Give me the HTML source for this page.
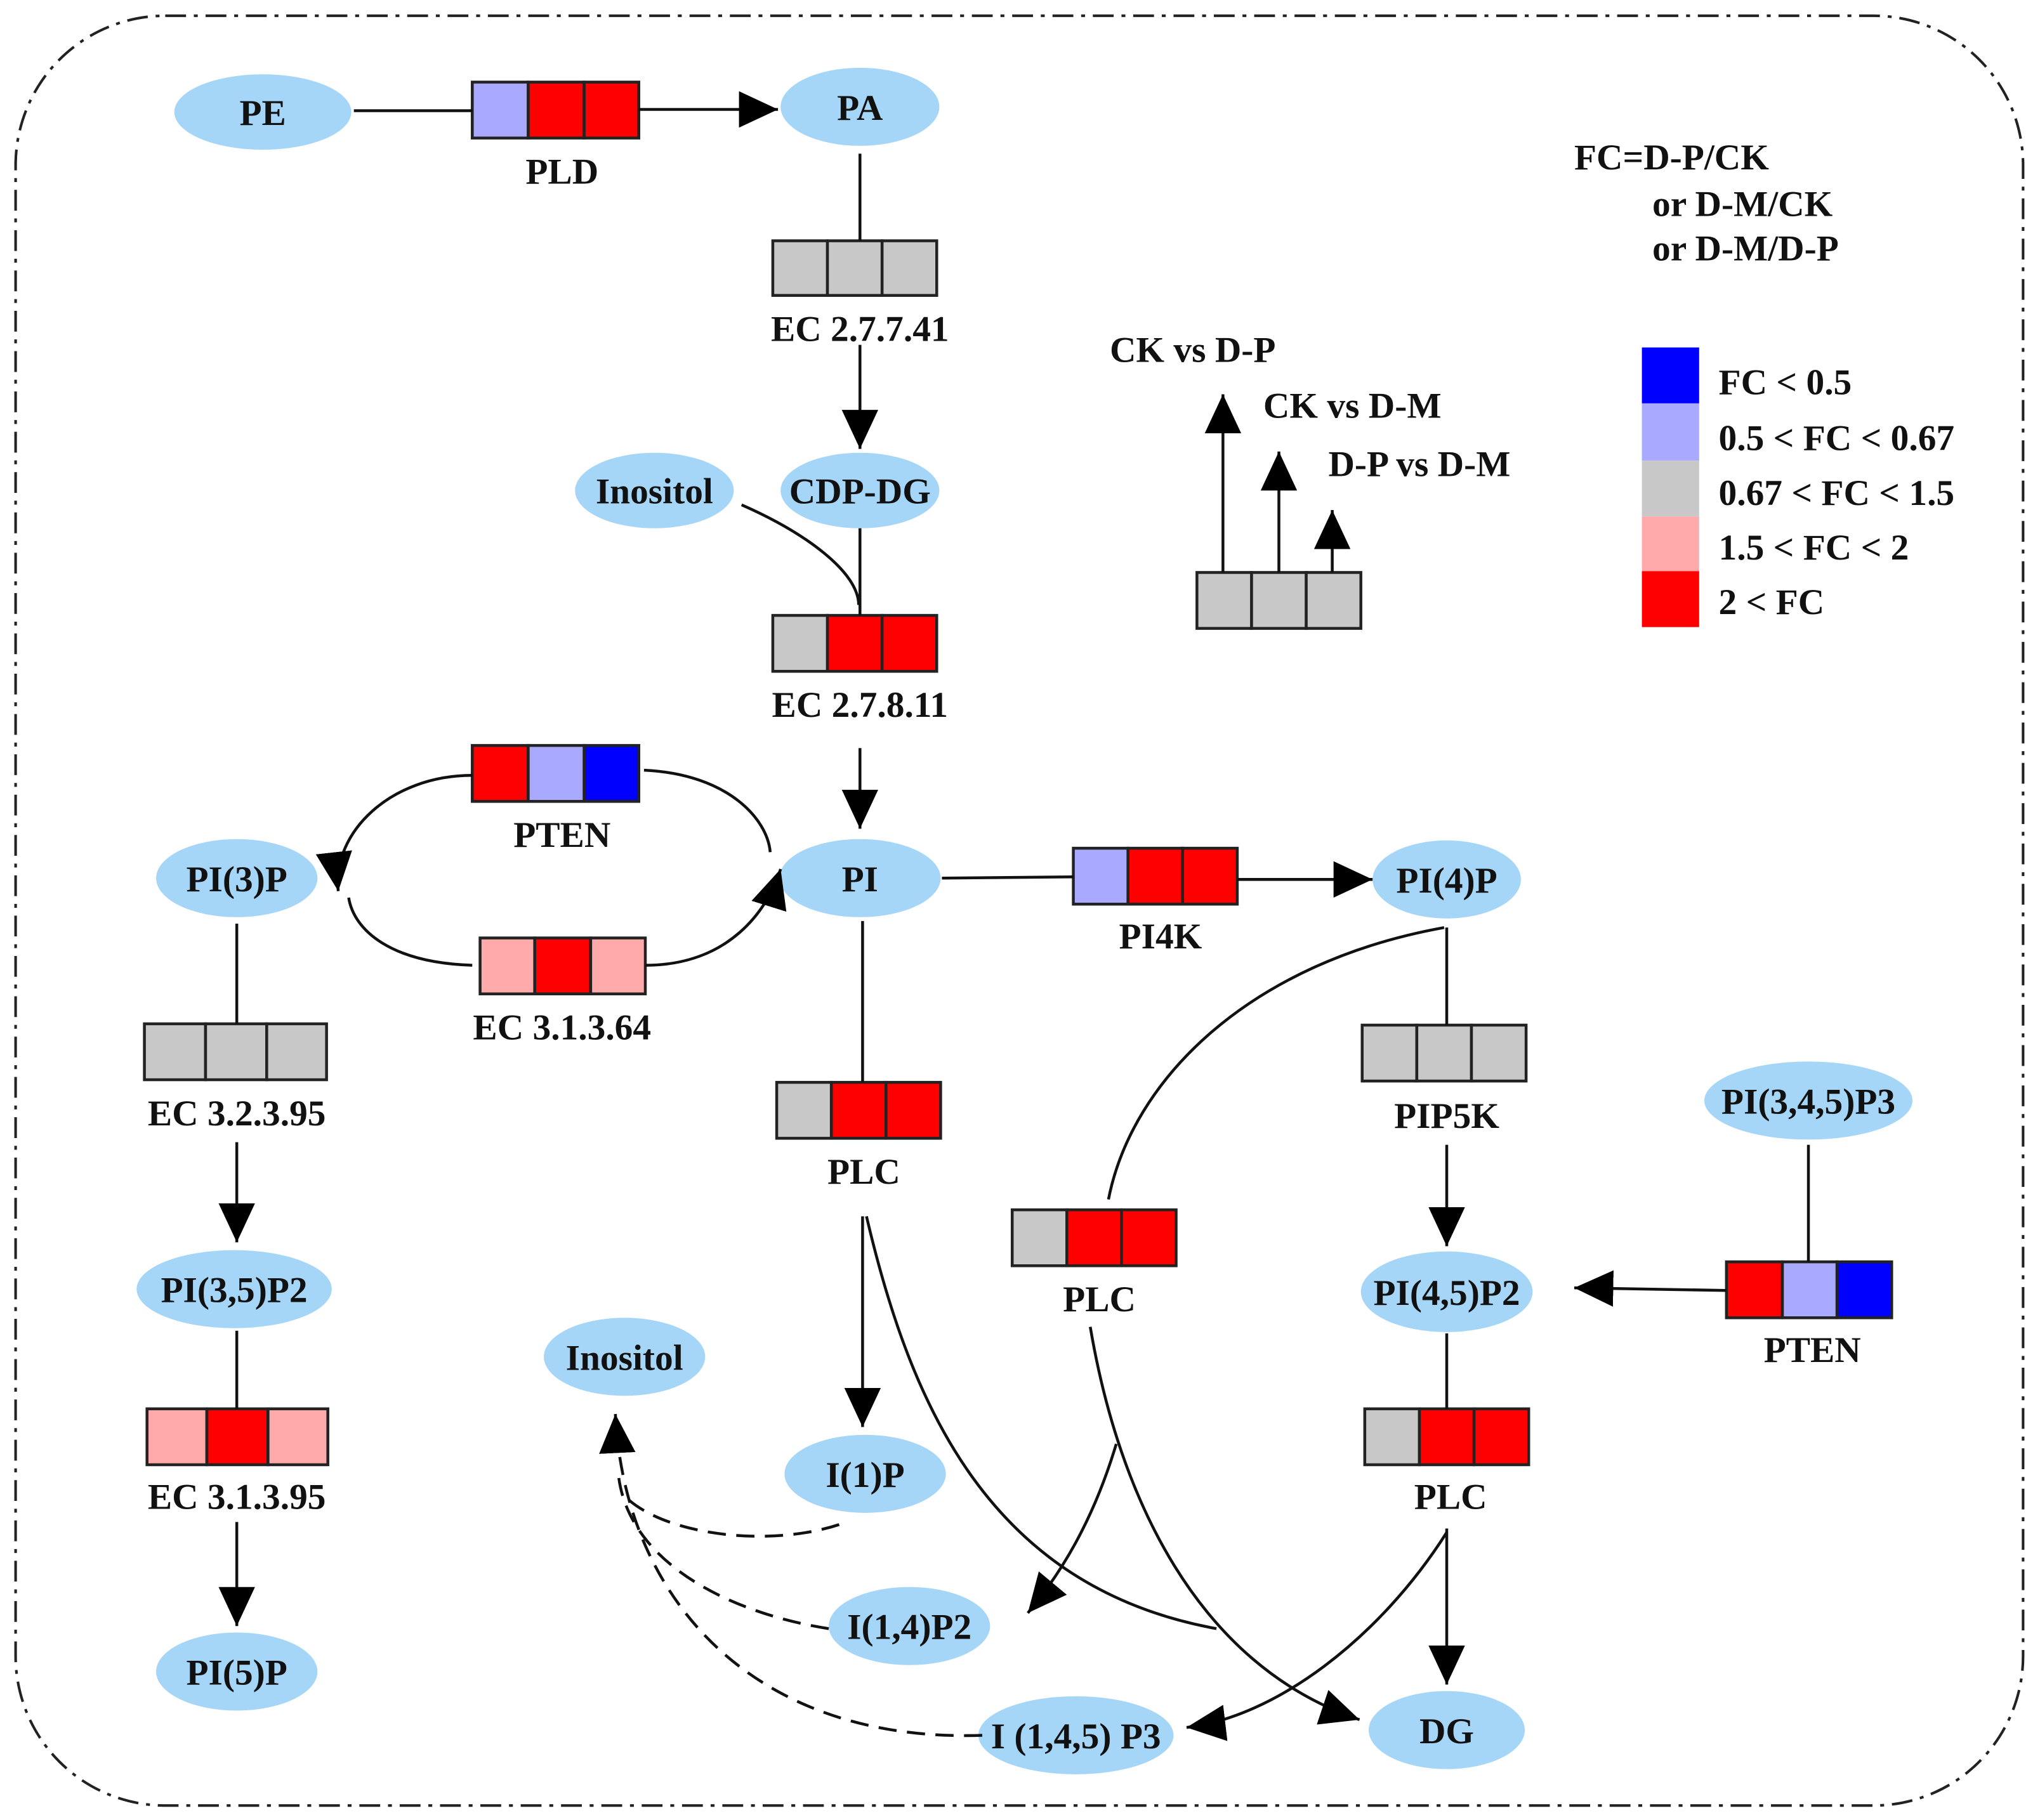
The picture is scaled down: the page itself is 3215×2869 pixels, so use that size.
<!DOCTYPE html>
<html><head><meta charset="utf-8"><style>
html,body{margin:0;padding:0;background:#fff;}
svg{display:block;}
text{font-family:"Liberation Serif",serif;font-weight:bold;font-size:28px;fill:#111;}
.c{text-anchor:middle;}
.l{stroke:#111;stroke-width:2.2;fill:none;}
.d{stroke:#111;stroke-width:2.2;fill:none;stroke-dasharray:14 8;}
.e{fill:#a6d6f7;}
.b{stroke:#222;stroke-width:2.2;}
</style></head><body>
<svg width="3215" height="2869" viewBox="0 0 1568 1399" xmlns="http://www.w3.org/2000/svg">
<defs>
<marker id="a" markerUnits="userSpaceOnUse" markerWidth="32" markerHeight="28" refX="30" refY="14" orient="auto">
<path d="M0,0 L30,14 L0,28 Z" fill="#000"/></marker>
</defs>
<rect x="12" y="12" width="1543" height="1376" rx="115" ry="115" fill="none" stroke="#222" stroke-width="2" stroke-dasharray="16 6 3 6"/>

<g class="e">
<ellipse cx="202" cy="86" rx="68" ry="29"/>
<ellipse cx="661" cy="82" rx="61" ry="30"/>
<ellipse cx="661" cy="377" rx="61" ry="29"/>
<ellipse cx="503" cy="377" rx="61" ry="29"/>
<ellipse cx="661" cy="675" rx="62" ry="30"/>
<ellipse cx="182" cy="675" rx="62" ry="30"/>
<ellipse cx="180" cy="991" rx="75" ry="30"/>
<ellipse cx="182" cy="1285" rx="62" ry="30"/>
<ellipse cx="1112" cy="676" rx="57" ry="30"/>
<ellipse cx="1112" cy="993" rx="66" ry="31"/>
<ellipse cx="1390" cy="846" rx="80" ry="30"/>
<ellipse cx="1112" cy="1330" rx="60" ry="30"/>
<ellipse cx="665" cy="1133" rx="62" ry="30"/>
<ellipse cx="699" cy="1250" rx="62" ry="30"/>
<ellipse cx="827" cy="1334" rx="75" ry="30"/>
<ellipse cx="480" cy="1043" rx="62" ry="30"/>
</g>
<g class="c">
<text x="202" y="96">PE</text><text x="661" y="92">PA</text>
<text x="661" y="387">CDP-DG</text><text x="503" y="387">Inositol</text>
<text x="661" y="685">PI</text><text x="182" y="685">PI(3)P</text>
<text x="180" y="1001">PI(3,5)P2</text><text x="182" y="1295">PI(5)P</text>
<text x="1112" y="686">PI(4)P</text><text x="1112" y="1003">PI(4,5)P2</text>
<text x="1390" y="856">PI(3,4,5)P3</text><text x="1112" y="1340">DG</text>
<text x="665" y="1143">I(1)P</text><text x="699" y="1260">I(1,4)P2</text>
<text x="827" y="1344">I (1,4,5) P3</text><text x="480" y="1053">Inositol</text>
</g>

<g class="b">
<rect x="363" y="63" width="43" height="43" fill="#a9a9ff"/><rect x="406" y="63" width="43" height="43" fill="#f00"/><rect x="449" y="63" width="42" height="43" fill="#f00"/>
<rect x="594" y="185" width="42" height="42" fill="#c8c8c8"/><rect x="636" y="185" width="42" height="42" fill="#c8c8c8"/><rect x="678" y="185" width="42" height="42" fill="#c8c8c8"/>
<rect x="594" y="473" width="42" height="43" fill="#c8c8c8"/><rect x="636" y="473" width="42" height="43" fill="#f00"/><rect x="678" y="473" width="42" height="43" fill="#f00"/>
<rect x="363" y="573" width="43" height="43" fill="#f00"/><rect x="406" y="573" width="43" height="43" fill="#a9a9ff"/><rect x="449" y="573" width="42" height="43" fill="#00f"/>
<rect x="369" y="721" width="42" height="43" fill="#ffaaaa"/><rect x="411" y="721" width="43" height="43" fill="#f00"/><rect x="454" y="721" width="42" height="43" fill="#ffaaaa"/>
<rect x="111" y="787" width="47" height="43" fill="#c8c8c8"/><rect x="158" y="787" width="47" height="43" fill="#c8c8c8"/><rect x="205" y="787" width="46" height="43" fill="#c8c8c8"/>
<rect x="113" y="1083" width="46" height="43" fill="#ffaaaa"/><rect x="159" y="1083" width="47" height="43" fill="#f00"/><rect x="206" y="1083" width="46" height="43" fill="#ffaaaa"/>
<rect x="825" y="652" width="42" height="43" fill="#a9a9ff"/><rect x="867" y="652" width="42" height="43" fill="#f00"/><rect x="909" y="652" width="42" height="43" fill="#f00"/>
<rect x="1047" y="788" width="42" height="43" fill="#c8c8c8"/><rect x="1089" y="788" width="42" height="43" fill="#c8c8c8"/><rect x="1131" y="788" width="42" height="43" fill="#c8c8c8"/>
<rect x="1327" y="970" width="43" height="43" fill="#f00"/><rect x="1370" y="970" width="42" height="43" fill="#a9a9ff"/><rect x="1412" y="970" width="42" height="43" fill="#00f"/>
<rect x="1049" y="1083" width="42" height="43" fill="#c8c8c8"/><rect x="1091" y="1083" width="42" height="43" fill="#f00"/><rect x="1133" y="1083" width="42" height="43" fill="#f00"/>
<rect x="597" y="832" width="42" height="43" fill="#c8c8c8"/><rect x="639" y="832" width="42" height="43" fill="#f00"/><rect x="681" y="832" width="42" height="43" fill="#f00"/>
<rect x="778" y="930" width="42" height="43" fill="#c8c8c8"/><rect x="820" y="930" width="42" height="43" fill="#f00"/><rect x="862" y="930" width="42" height="43" fill="#f00"/>
<rect x="920" y="440" width="42" height="43" fill="#c8c8c8"/><rect x="962" y="440" width="42" height="43" fill="#c8c8c8"/><rect x="1004" y="440" width="42" height="43" fill="#c8c8c8"/>
</g>
<g class="c">
<text x="432" y="141">PLD</text><text x="661" y="262">EC 2.7.7.41</text><text x="661" y="551">EC 2.7.8.11</text>
<text x="432" y="651">PTEN</text><text x="432" y="799">EC 3.1.3.64</text><text x="182" y="865">EC 3.2.3.95</text>
<text x="182" y="1160">EC 3.1.3.95</text><text x="892" y="729">PI4K</text><text x="1112" y="867">PIP5K</text>
<text x="1393" y="1047">PTEN</text><text x="1115" y="1160">PLC</text><text x="664" y="910">PLC</text><text x="845" y="1008">PLC</text>
</g>

<path class="l" d="M272 85 H363"/>
<path class="l" d="M491 84 H598" marker-end="url(#a)"/>
<path class="l" d="M661 118 V185"/>
<path class="l" d="M661 265 V345" marker-end="url(#a)"/>
<path class="l" d="M570 388 C620 410 660 440 660 465"/>
<path class="l" d="M661 406 V473"/>
<path class="l" d="M661 575 V637" marker-end="url(#a)"/>
<path class="l" d="M363 596 C300 596 255 640 260 685" marker-end="url(#a)"/>
<path class="l" d="M495 592 C560 595 590 630 592 655"/>
<path class="l" d="M363 742 C300 740 272 715 268 690"/>
<path class="l" d="M496 742 C560 742 590 700 600 668" marker-end="url(#a)"/>
<path class="l" d="M182 710 V787"/>
<path class="l" d="M182 878 V955" marker-end="url(#a)"/>
<path class="l" d="M182 1023 V1083"/>
<path class="l" d="M182 1170 V1250" marker-end="url(#a)"/>
<path class="l" d="M724 675 L825 674"/>
<path class="l" d="M951 676 H1055" marker-end="url(#a)"/>
<path class="l" d="M1112 713 V788"/>
<path class="l" d="M1112 880 V958" marker-end="url(#a)"/>
<path class="l" d="M1390 880 V970"/>
<path class="l" d="M1327 992 L1210 990" marker-end="url(#a)"/>
<path class="l" d="M1112 1025 V1083"/>
<path class="l" d="M1112 1175 V1295" marker-end="url(#a)"/>
<path class="l" d="M663 708 V832"/>
<path class="l" d="M663 935 V1097" marker-end="url(#a)"/>
<path class="l" d="M666 935 C700 1080 760 1220 935 1252"/>
<path class="l" d="M1110 713 C960 740 870 830 852 922"/>
<path class="l" d="M838 1020 C860 1150 920 1280 1045 1322" marker-end="url(#a)"/>
<path class="l" d="M858 1110 C840 1170 815 1210 790 1240" marker-end="url(#a)"/>
<path class="l" d="M1112 1178 C1060 1260 980 1320 912 1328" marker-end="url(#a)"/>
<path class="d" d="M645 1172 C590 1190 510 1180 480 1150"/>
<path class="d" d="M637 1252 C560 1240 480 1200 475 1130"/>
<path class="d" d="M755 1334 C580 1340 480 1230 473 1087" marker-end="url(#a)"/>

<path class="l" d="M940 440 V303" marker-end="url(#a)"/>
<path class="l" d="M983 440 V347" marker-end="url(#a)"/>
<path class="l" d="M1024 440 V392" marker-end="url(#a)"/>
<text x="853" y="278">CK vs D-P</text>
<text x="971" y="321">CK vs D-M</text>
<text x="1021" y="366">D-P vs D-M</text>
<text x="1210" y="130">FC=D-P/CK</text>
<text x="1270" y="166">or D-M/CK</text>
<text x="1270" y="200">or D-M/D-P</text>
<rect x="1262" y="267" width="44" height="43" fill="#00f"/>
<rect x="1262" y="310" width="44" height="44" fill="#a9a9ff"/>
<rect x="1262" y="354" width="44" height="43" fill="#c8c8c8"/>
<rect x="1262" y="397" width="44" height="42" fill="#ffaaaa"/>
<rect x="1262" y="439" width="44" height="43" fill="#f00"/>
<text x="1321" y="303">FC &lt; 0.5</text>
<text x="1321" y="346">0.5 &lt; FC &lt; 0.67</text>
<text x="1321" y="388">0.67 &lt; FC &lt; 1.5</text>
<text x="1321" y="430">1.5 &lt; FC &lt; 2</text>
<text x="1321" y="472">2 &lt; FC</text>
</svg>
</body></html>
